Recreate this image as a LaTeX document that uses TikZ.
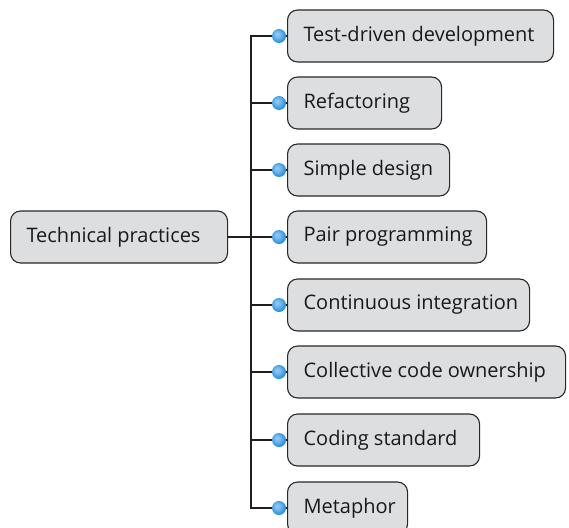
\documentclass[tikz,border=0pt]{standalone}
\usepackage{fontspec}
\setmainfont{Open Sans}
\usetikzlibrary{shadings}
\definecolor{boxfill}{RGB}{221,222,224}
\definecolor{boxline}{RGB}{40,40,40}
\definecolor{trunk}{RGB}{30,30,30}
\definecolor{dotblue}{RGB}{30,140,225}
\pgfdeclareradialshading{knobshade}{\pgfpoint{-8bp}{8bp}}{%
  color(0bp)=(white!55!dotblue); color(10bp)=(dotblue!60!white);
  color(28bp)=(dotblue); color(42bp)=(dotblue!80!black); color(50bp)=(dotblue!80!black)}
\tikzset{
  box/.style={draw=boxline, line width=1.1pt, fill=boxfill, rounded corners=10pt,
    minimum height=52pt, inner xsep=16pt, inner ysep=0pt, anchor=west,
    font=\fontsize{20}{24}\selectfont, text=black!90},
  conn/.style={draw=trunk, line width=2.6pt},
  knob/.style={circle, minimum size=14pt, inner sep=0pt, shading=knobshade, draw=none}
}
\begin{document}
\begin{tikzpicture}[x=1pt,y=-1pt]
\useasboundingbox (0,0) rectangle (569,527);
\node[box] (root) at (10,237) {\makebox[185pt][l]{Technical practices}};
\coordinate (tMid) at (251,237);
\foreach \i/\c/\r/\t in {1/36/553/Test-driven development,
                        2/103/441/Refactoring,
                        3/170/449/Simple design,
                        4/237/486/Pair programming,
                        5/305/529/Continuous integration,
                        6/372/565/Collective code ownership,
                        7/440/479/Coding standard,
                        8/508/407/Metaphor}{
  \pgfmathsetmacro{\w}{\r-287-32}
  \node[box] (c\i) at (287,\c) {\makebox[\w pt][l]{\t}};
  \coordinate (j\i) at (251,\c);
}
\draw[conn] (c1.west) -- (j1) -- (j8) -- (c8.west);
\foreach \i in {2,...,7}{\draw[conn] (j\i) -- (c\i.west);}
\draw[conn] (root.east) -- (tMid);
\foreach \i in {1,...,8}{\node[knob] (k\i) at ([xshift=-8pt]c\i.west) {};}
\end{tikzpicture}
\end{document}
